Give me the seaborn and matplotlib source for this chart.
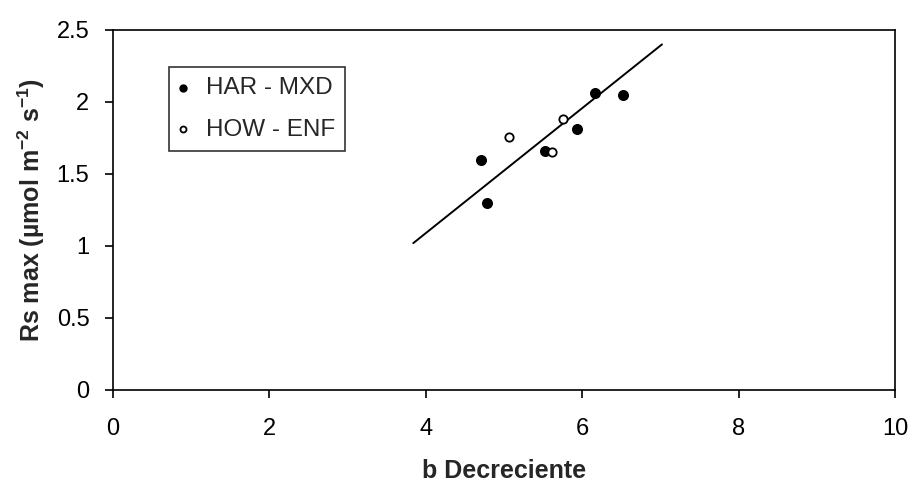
import matplotlib
matplotlib.use("Agg")
import matplotlib.pyplot as plt
import seaborn as sns
import pandas as pd

har_x = [4.71, 4.78, 5.52, 5.93, 6.16, 6.52]
har_y = [1.60, 1.30, 1.66, 1.81, 2.06, 2.05]
how_x = [5.06, 5.62, 5.75]
how_y = [1.76, 1.65, 1.88]
line_x = [3.84, 7.02]
line_y = [1.02, 2.40]
xticks = [0, 2, 4, 6, 8, 10]
yticks = [0, 0.5, 1, 1.5, 2, 2.5]
yticklabels = ["0", "0.5", "1", "1.5", "2", "2.5"]

sns.set_style("white")
plt.rcParams['font.family'] = ['Liberation Sans', 'DejaVu Sans']
plt.rcParams['mathtext.fontset'] = 'custom'
plt.rcParams['mathtext.rm'] = 'Liberation Sans:bold'
plt.rcParams['mathtext.it'] = 'Liberation Sans:bold'
plt.rcParams['mathtext.bf'] = 'Liberation Sans:bold'

fig = plt.figure(figsize=(9.11, 4.83), dpi=100)
ax = fig.add_axes([113/911, 1-390/483, (895-113)/911, (390-30)/483])

df_har = pd.DataFrame({"x": har_x, "y": har_y})
df_how = pd.DataFrame({"x": how_x, "y": how_y})
sns.lineplot(x=line_x, y=line_y, ax=ax, color="black", linewidth=1.4)
sns.scatterplot(data=df_har, x="x", y="y", ax=ax, color="black", edgecolor="black",
                s=48, linewidth=1, label="HAR - MXD", zorder=3)
sns.scatterplot(data=df_how, x="x", y="y", ax=ax, color="white", edgecolor="black",
                s=36, linewidth=1.3, label="HOW - ENF", zorder=3)

ax.set_xlim(0, 10)
ax.set_ylim(0, 2.5)
ax.set_xticks(xticks)
ax.set_yticks(yticks)
ax.set_xticklabels([str(t) for t in xticks])
ax.set_yticklabels(yticklabels)
ax.tick_params(direction="out", length=6, width=1.2, labelsize=17, colors="black",
               bottom=True, left=True)
ax.tick_params(axis="x", pad=14)
ax.tick_params(axis="y", pad=11)
for s in ax.spines.values():
    s.set_color("black")
    s.set_linewidth(1.2)
ax.set_xlabel("b Decreciente", fontsize=18, fontweight="bold", labelpad=14)
ax.set_ylabel(r"Rs max (µmol m$^{-2}$ s$^{-1}$)",
              fontsize=18, fontweight="bold", labelpad=7)

leg = ax.legend(loc="upper left", bbox_to_anchor=((169-113)/782, (390-67)/360),
                borderaxespad=0, frameon=True, fancybox=False, edgecolor="black",
                fontsize=17.5, handletextpad=0.8, handlelength=0.3, markerscale=0.72,
                borderpad=0.42, labelspacing=0.8)
leg.get_frame().set_linewidth(1.2)

fig.savefig("out.png", dpi=100, facecolor="white")
